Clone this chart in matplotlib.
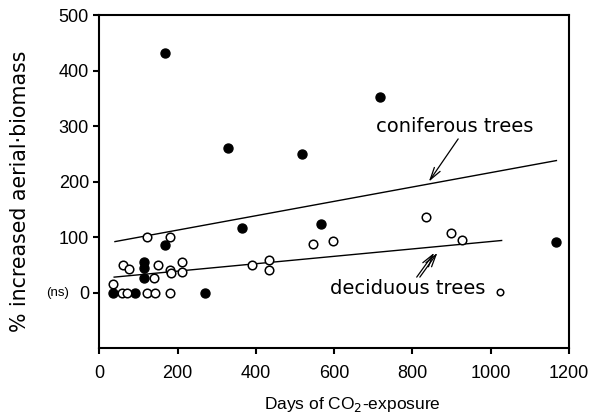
import matplotlib
matplotlib.use("Agg")
import matplotlib.pyplot as plt

# coniferous trees (filled circles)
conif_days = [168, 330, 518, 718, 365, 566, 168, 113, 113, 113, 34, 92, 271, 1166]
conif_pct = [431, 260, 249, 352, 116, 123, 86, 55, 45, 27, 0, 0, 0, 92]

# deciduous trees (open circles)
decid_days = [123, 181, 34, 61, 77, 151, 141, 181, 183, 212, 212, 389, 434, 434,
              58, 70, 123, 143, 181, 547, 598, 836, 898, 926]
decid_pct = [101, 101, 16, 49, 43, 49, 26, 40, 35, 56, 37, 50, 59, 41,
             0, 0, 0, 0, 0, 88, 93, 137, 108, 95]
odd_day, odd_pct = 1025, 1

# regression lines (end points)
conif_fit_x = [40, 1168]
conif_fit_y = [92, 238]
decid_fit_x = [38, 1028]
decid_fit_y = [28, 94]

xticks = [0, 200, 400, 600, 800, 1000, 1200]
yticks = [0, 100, 200, 300, 400, 500]

plt.rcParams["font.family"] = ["Liberation Sans", "DejaVu Sans"]

fig = plt.figure(figsize=(5.96, 4.2), dpi=100)
ax = fig.add_axes([0.1666, 0.171, 0.788, 0.793])

ax.plot(conif_fit_x, conif_fit_y, color="black", lw=1.0)
ax.plot(decid_fit_x, decid_fit_y, color="black", lw=1.0)

ax.scatter(conif_days, conif_pct, s=42, color="black", zorder=3)
ax.scatter(decid_days, decid_pct, s=38, facecolor="white", edgecolor="black",
           linewidths=1.1, zorder=3)
ax.scatter([odd_day], [odd_pct], s=22, facecolor="white", edgecolor="black",
           linewidths=1.1, zorder=3)

ax.set_xlim(0, 1200)
ax.set_ylim(-100, 500)
ax.set_xticks(xticks)
ax.set_yticks(yticks)
ax.tick_params(labelsize=13, width=1.5, length=4, direction="out")
ax.tick_params(axis="x", pad=8)
for s in ax.spines.values():
    s.set_linewidth(1.5)

ax.set_xlabel("Days of CO$_2$-exposure", fontsize=12.5)
ax.xaxis.set_label_coords(0.538, -0.14)
ax.set_ylabel("% increased aerial\u00b7biomass", fontsize=14.8, family="DejaVu Sans")
ax.yaxis.set_label_coords(-0.148, 0.471)

ax.text(-0.088, 0, "(ns)", transform=ax.get_yaxis_transform(), fontsize=9.5,
        ha="center", va="center")

arrow = dict(arrowstyle="->,head_length=0.9,head_width=0.25", lw=0.9,
             color="black", shrinkA=0, shrinkB=0)

ax.text(909, 299, "coniferous trees", fontsize=14, family="DejaVu Sans",
        ha="center", va="center")
ax.annotate("", xy=(842, 200), xytext=(917, 277), arrowprops=arrow)

ax.text(789, 7, "deciduous trees", fontsize=14, family="DejaVu Sans",
        ha="center", va="center")
for dx in (-4, 4):
    ax.annotate("", xy=(860 + dx, 72), xytext=(815 + dx, 28), arrowprops=arrow)

fig.savefig("out.png", dpi=100)
